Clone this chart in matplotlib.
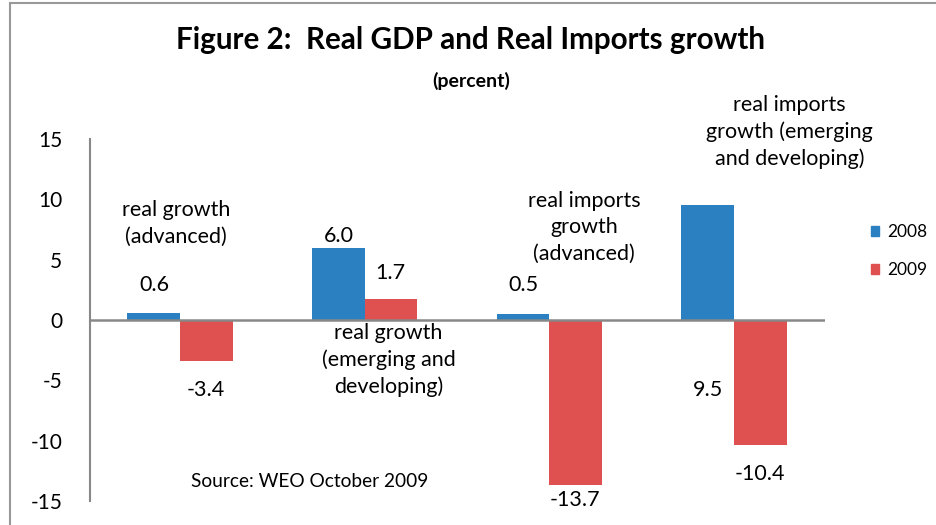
import matplotlib.pyplot as plt
from matplotlib.patches import Rectangle, Patch
import numpy as np

plt.rcParams['font.family'] = ['Lato', 'DejaVu Sans']

categories = ["real growth\n(advanced)",
              "real growth\n(emerging and\ndeveloping)",
              "real imports\ngrowth\n(advanced)",
              "real imports\ngrowth (emerging\nand developing)"]
series = ["2008", "2009"]
vals2008 = [0.6, 6.0, 0.5, 9.5]
vals2009 = [-3.4, 1.7, -13.7, -10.4]
yticks = [-15, -10, -5, 0, 5, 10, 15]

# where the labels sit in the original (hand placed in excel)
catLabelPos = [(-0.02, 8.0), (1.13, -3.3), (2.19, 7.7), (3.3, 15.6)]
lab2008Pos = [(-0.14, 2.9), (0.86, 7.0), (1.86, 2.9), (2.86, -5.8)]
lab2009Pos = [(0.14, -5.8), (1.14, 3.9), (2.14, -14.9), (3.14, -12.8)]

blue = "#2a80c0"
red = "#df5050"
grey = "#888888"

fig = plt.figure(figsize=(9.37, 5.25), dpi=100)
ax = fig.add_axes([90/937, 24/525, 735/937, 362/525])

x = np.arange(len(categories))
w = 0.285
ax.bar(x - w/2, vals2008, w, color=blue, zorder=2)
ax.bar(x + w/2, vals2009, w, color=red, zorder=2)

ax.set_xlim(-0.487, 3.493)
ax.set_ylim(-15, 15)
ax.set_yticks(yticks)
ax.set_yticklabels([str(t) for t in yticks])
ax.set_xticks([])
ax.tick_params(axis='y', length=0, pad=20, labelsize=15)
for s in ['top', 'right', 'bottom']:
	ax.spines[s].set_visible(False)
ax.spines['left'].set_color(grey)
ax.spines['left'].set_linewidth(1.5)
ax.axhline(0, color=grey, lw=1.8, zorder=3)

for i, txt in enumerate(categories):
	ax.text(catLabelPos[i][0], catLabelPos[i][1], txt, ha='center', va='center',
		fontsize=15.5, linespacing=1.4, zorder=4)
for i, v in enumerate(vals2008):
	ax.text(lab2008Pos[i][0], lab2008Pos[i][1], "%.1f" % v, ha='center', va='center', fontsize=15.5)
for i, v in enumerate(vals2009):
	ax.text(lab2009Pos[i][0], lab2009Pos[i][1], "%.1f" % v, ha='center', va='center', fontsize=15.5)

ax.text(0.70, -13.4, "Source: WEO October 2009", ha='center', va='center', fontsize=13.8)

fig.text(471/937, 1 - 40/525, "Figure 2:  Real GDP and Real Imports growth",
	ha='center', va='center', fontsize=21.3, fontweight='bold')
fig.text(471/937, 1 - 81/525, "(percent)", ha='center', va='center', fontsize=14, fontweight='bold')

handles = [Patch(color=blue, label=series[0]), Patch(color=red, label=series[1])]
fig.legend(handles=handles, loc='center left', bbox_to_anchor=(855/937, 1 - 251/525),
	frameon=False, fontsize=12.5, handlelength=0.5, handleheight=0.5,
	handletextpad=0.45, labelspacing=1.25)

# chart border (only left and top edges show in the crop)
fig.patches.append(Rectangle((10/937, -0.1), 2, 1 - 3/525 + 0.1, transform=fig.transFigure,
	fill=False, edgecolor="#999999", lw=1.5))

fig.savefig("out.png", dpi=100)
